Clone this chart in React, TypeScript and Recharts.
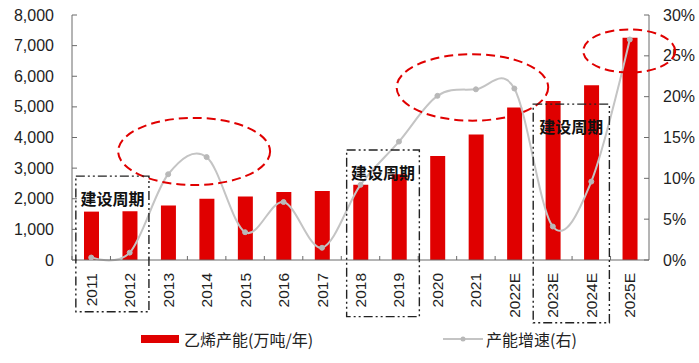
import React from "react";
import { ComposedChart, Bar, Line, XAxis, YAxis, ReferenceArea } from "recharts";

// 乙烯产能与增速
const YEARS = ["2011", "2012", "2013", "2014", "2015", "2016", "2017", "2018", "2019", "2020", "2021", "2022E", "2023E", "2024E", "2025E"];
const CAPACITY = [1580, 1590, 1780, 2000, 2070, 2220, 2250, 2460, 2800, 3400, 4100, 4980, 5190, 5710, 7260];
const GROWTH = [0.3, 0.9, 10.5, 12.6, 3.4, 7.1, 1.5, 9.2, 14.5, 20.1, 20.9, 21.0, 4.1, 9.6, 27.0];

const LEFT_TICKS = [0, 1000, 2000, 3000, 4000, 5000, 6000, 7000, 8000];
const RIGHT_TICKS = [0, 5, 10, 15, 20, 25, 30];

// annotations: x in category widths from the left edge of the plot, y in left-axis units
const ELLIPSES = [
  { x1: 1.2, x2: 5.15, y1: 2450, y2: 4640 },
  { x1: 8.44, x2: 12.38, y1: 4550, y2: 6720 },
  { x1: 13.29, x2: 15.68, y1: 6120, y2: 7530 },
];
const BOXES = [
  { x1: 0.1, x2: 2.0, y1: -1690, y2: 2740 },
  { x1: 7.14, x2: 9.03, y1: -1850, y2: 3590 },
  { x1: 11.99, x2: 13.97, y1: -2050, y2: 5090 },
];
const BOX_LABEL = "建设周期";

const data = YEARS.map((y, i) => ({ year: y, cap: CAPACITY[i], growth: GROWTH[i] }));

const RED = "#e00000";
const GREY = "#c4c4c4";
const AXIS = "#6b6b6b";
const TXT = "#1e1e1e";
const NUM_FONT = "'Liberation Sans', Arial, sans-serif";
const CJK_FONT = "'Noto Sans CJK SC', 'Noto Sans', sans-serif";

// Catmull-Rom style curve (close to Excel's smoothed line)
class SmoothCurve {
  _context: any; _k: number; _line: number = NaN; _point = 0;
  _x0 = NaN; _x1 = NaN; _x2 = NaN; _y0 = NaN; _y1 = NaN; _y2 = NaN;
  constructor(context: any) { this._context = context; this._k = 1 / 6; }
  areaStart() { this._line = 0; }
  areaEnd() { this._line = NaN; }
  lineStart() {
    this._x0 = this._x1 = this._x2 = this._y0 = this._y1 = this._y2 = NaN;
    this._point = 0;
  }
  seg(x: number, y: number) {
    const k = this._k;
    this._context.bezierCurveTo(
      this._x1 + k * (this._x2 - this._x0), this._y1 + k * (this._y2 - this._y0),
      this._x2 + k * (this._x1 - x), this._y2 + k * (this._y1 - y),
      this._x2, this._y2
    );
  }
  lineEnd() {
    if (this._point === 2) this._context.lineTo(this._x2, this._y2);
    else if (this._point === 3) this.seg(this._x1, this._y1);
    if (this._line || (this._line !== 0 && this._point === 1)) this._context.closePath();
    this._line = 1 - this._line;
  }
  point(x: number, y: number) {
    x = +x; y = +y;
    if (this._point === 0) {
      this._point = 1;
      this._line ? this._context.lineTo(x, y) : this._context.moveTo(x, y);
    } else if (this._point === 1) {
      this._point = 2;
      this._x1 = x; this._y1 = y;
    } else {
      if (this._point === 2) this._point = 3;
      this.seg(x, y);
    }
    this._x0 = this._x1; this._x1 = this._x2; this._x2 = x;
    this._y0 = this._y1; this._y1 = this._y2; this._y2 = y;
  }
}
const smooth = (context: any) => new SmoothCurve(context);

function XTick(props: any) {
  const { x, y, payload } = props;
  const half = payload && payload.offset ? payload.offset : 19.23;
  const axisY = y - 2;
  return (
    <g>
      <line x1={x - half} y1={axisY} x2={x - half} y2={axisY - 4} stroke={AXIS} />
      <text
        transform={`translate(${x},${axisY + 13}) rotate(-90)`}
        textAnchor="end"
        dominantBaseline="central"
        fontSize={15.5}
        fontFamily={NUM_FONT}
        fill={TXT}
      >
        {payload.value}
      </text>
    </g>
  );
}

function LeftTick(props: any) {
  const { x, y, payload } = props;
  const ax = x + 18;
  return (
    <g>
      <line x1={ax} y1={y} x2={ax + 5} y2={y} stroke={AXIS} />
      <text x={x} y={y} textAnchor="end" dominantBaseline="central" fontSize={16} fontFamily={NUM_FONT} fill={TXT}>
        {payload.value.toLocaleString("en-US")}
      </text>
    </g>
  );
}

function RightTick(props: any) {
  const { x, y, payload } = props;
  const ax = x - 14;
  return (
    <g>
      <line x1={ax - 5} y1={y} x2={ax} y2={y} stroke={AXIS} />
      <text x={x} y={y} textAnchor="start" dominantBaseline="central" fontSize={16} fontFamily={NUM_FONT} fill={TXT}>
        {payload.value}%
      </text>
    </g>
  );
}

// the area is anchored on the first category band, so p.width is one category width
const ellipseShape = (e: any) => (p: any) => {
  const left = p.x + e.x1 * p.width;
  const right = p.x + e.x2 * p.width;
  return (
    <ellipse
      cx={(left + right) / 2}
      cy={p.y + p.height / 2}
      rx={(right - left) / 2}
      ry={p.height / 2}
      fill="none"
      stroke={RED}
      strokeWidth={2}
      strokeDasharray="9 5"
    />
  );
};

const boxShape = (b: any) => (p: any) => {
  const left = p.x + b.x1 * p.width;
  const w = (b.x2 - b.x1) * p.width;
  return (
    <g>
      <rect x={left} y={p.y} width={w} height={p.height} fill="none" stroke="#222" strokeWidth={1.4} strokeDasharray="9 3 2 3 2 3" />
      <text
        x={left + w / 2}
        y={p.y + 22}
        textAnchor="middle"
        dominantBaseline="central"
        fontSize={16}
        fontWeight={700}
        fontFamily={CJK_FONT}
        fill="#111"
      >
        {BOX_LABEL}
      </text>
    </g>
  );
};

export default function App() {
  return (
    <div style={{ position: "absolute", left: 0, top: 0, width: 699, height: 363, background: "#fff" }}>
      <ComposedChart width={699} height={363} data={data} margin={{ top: 15, right: 0, bottom: 45, left: 0 }}>
        <XAxis
          dataKey="year"
          interval={0}
          height={58}
          stroke={AXIS}
          tickLine={false}
          tickSize={0}
          tickMargin={2}
          tick={<XTick />}
        />
        <YAxis
          yAxisId="left"
          width={72}
          domain={[0, 8000]}
          ticks={LEFT_TICKS}
          interval={0}
          stroke={AXIS}
          tickLine={false}
          tickSize={0}
          tickMargin={18}
          tick={<LeftTick />}
        />
        <YAxis
          yAxisId="right"
          orientation="right"
          width={50}
          domain={[0, 30]}
          ticks={RIGHT_TICKS}
          interval={0}
          stroke={AXIS}
          tickLine={false}
          tickSize={0}
          tickMargin={14}
          tick={<RightTick />}
        />
        <Bar yAxisId="left" dataKey="cap" fill={RED} barSize={15} isAnimationActive={false} />
        <Line
          yAxisId="right"
          dataKey="growth"
          type={smooth as any}
          stroke={GREY}
          strokeWidth={2}
          dot={{ r: 2.5, fill: "#b8b8b8", stroke: "#b8b8b8", strokeWidth: 1 }}
          isAnimationActive={false}
        />
        {ELLIPSES.map((e, i) => (
          <ReferenceArea
            key={"e" + i}
            yAxisId="left"
            x1={YEARS[0]}
            x2={YEARS[0]}
            y1={e.y1}
            y2={e.y2}
            ifOverflow="visible"
            zIndex={2000}
            shape={ellipseShape(e)}
          />
        ))}
        {BOXES.map((b, i) => (
          <ReferenceArea
            key={"b" + i}
            yAxisId="left"
            x1={YEARS[0]}
            x2={YEARS[0]}
            y1={b.y1}
            y2={b.y2}
            ifOverflow="visible"
            zIndex={2000}
            shape={boxShape(b)}
          />
        ))}
      </ComposedChart>
      <div
        style={{
          position: "absolute",
          left: 141,
          top: 328,
          display: "flex",
          alignItems: "center",
          fontFamily: CJK_FONT,
          fontSize: 16,
          color: "#222",
          lineHeight: "22px",
        }}
      >
        <span style={{ display: "inline-block", width: 38, height: 8, background: RED, marginRight: 5 }} />
        <span>乙烯产能(万吨/年)</span>
        <svg width={40} height={10} style={{ marginLeft: 130, marginRight: 3 }}>
          <line x1={0} y1={5} x2={40} y2={5} stroke={GREY} strokeWidth={2} />
          <circle cx={20} cy={5} r={2.5} fill="#b8b8b8" />
        </svg>
        <span>产能增速(右)</span>
      </div>
    </div>
  );
}
